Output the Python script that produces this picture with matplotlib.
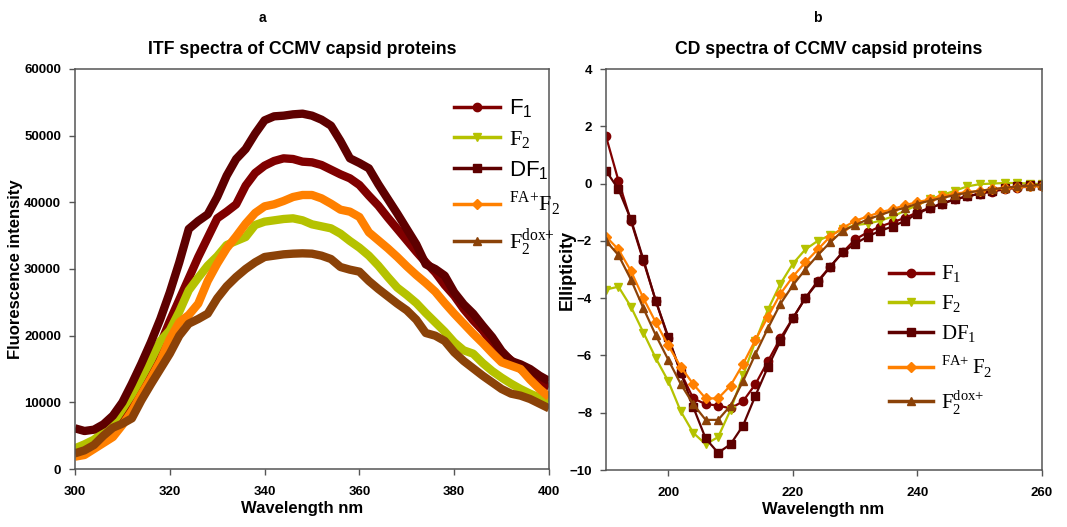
import matplotlib
matplotlib.use('Agg')
import matplotlib.pyplot as plt
from matplotlib.lines import Line2D
import numpy as np

plt.rcParams['font.family'] = ['Liberation Sans', 'DejaVu Sans']
plt.rcParams['mathtext.fontset'] = 'custom'
plt.rcParams['mathtext.rm'] = 'Liberation Serif'
plt.rcParams['mathtext.sf'] = 'Liberation Sans'

# ---- Panel a: intrinsic tryptophan fluorescence ----
itf_wl = np.arange(300, 401, 2)
itf_f1 = [2800, 3300, 4200, 5300, 6600, 8300, 10500, 13000, 15800, 18700,
          22200, 25400, 28600, 31800, 34700, 37600, 38600, 39700, 42500, 44400,
          45500, 46200, 46600, 46500, 46100, 46000, 45600, 44900, 44200, 43600,
          42600, 41000, 39500, 37700, 36000, 34300, 32600, 31000, 29500, 27600,
          26000, 24000, 22300, 20800, 18900, 17400, 16300, 15000, 13900, 13000, 12300]
itf_f2 = [3100, 3700, 4400, 5500, 6900, 9000, 11200, 13700, 16300, 19200,
          20800, 23600, 26800, 28700, 30500, 31900, 33600, 34200, 34800, 36600,
          37100, 37300, 37500, 37600, 37300, 36700, 36400, 36100, 35300, 34200,
          33200, 32000, 30500, 28800, 27200, 26100, 24900, 23400, 22000, 20600,
          19000, 17800, 17300, 15900, 14700, 13700, 12800, 12000, 11300, 10700, 10200]
itf_df1 = [6100, 5700, 5900, 6700, 8000, 10000, 12800, 15800, 19000, 22500,
           26500, 31000, 36000, 37200, 38200, 40800, 44000, 46500, 48000, 50300,
           52300, 52900, 53000, 53200, 53300, 53000, 52400, 51500, 49200, 46600,
           45900, 45100, 42700, 40500, 38300, 36000, 33700, 30700, 30000, 29000,
           26500, 24700, 23300, 21500, 19800, 17700, 16200, 15700, 15000, 14000, 13200]
itf_fa_f2 = [1850, 2100, 3000, 3900, 4800, 6600, 8700, 11200, 13600, 16200,
             19500, 22000, 23100, 24800, 28200, 30800, 33100, 34900, 36800, 38400,
             39400, 39700, 40200, 40800, 41100, 41100, 40600, 39800, 38900, 38600,
             37800, 35500, 34300, 33100, 31800, 30400, 29100, 27900, 26600, 24900,
             23300, 21800, 20300, 18900, 17400, 16000, 15500, 15000, 13400, 12000, 10800]
itf_f2_dox = [2350, 2800, 3600, 5000, 6200, 6800, 7600, 10300, 12700, 15000,
              17300, 20000, 21800, 22500, 23300, 25600, 27400, 28800, 30000, 31000,
              31800, 32000, 32200, 32300, 32350, 32300, 32000, 31500, 30300, 29900,
              29600, 28200, 27000, 25900, 24800, 23800, 22400, 20400, 20000, 19200,
              17500, 16200, 15100, 14000, 13000, 12000, 11300, 11000, 10500, 9800, 9100]

# ---- Panel b: circular dichroism ----
cd_wl = np.arange(190, 261, 2)
cd_f1 = [1.65, 0.1, -1.3, -2.7, -4.1, -5.4, -6.6, -7.5, -7.7, -7.75,
         -7.85, -7.6, -7.0, -6.2, -5.4, -4.7, -4.0, -3.4, -2.9, -2.4,
         -1.95, -1.7, -1.5, -1.35, -1.2, -1.0, -0.85, -0.7, -0.55, -0.45,
         -0.35, -0.28, -0.2, -0.15, -0.1, -0.08]
cd_f2 = [-3.7, -3.6, -4.3, -5.2, -6.1, -6.9, -7.95, -8.7, -9.1, -8.85,
         -7.9, -6.7, -5.5, -4.4, -3.5, -2.8, -2.3, -2.0, -1.8, -1.6,
         -1.45, -1.4, -1.3, -1.15, -0.95, -0.75, -0.55, -0.4, -0.25, -0.1,
         -0.02, 0.0, 0.02, 0.02, 0.0, -0.02]
cd_df1 = [0.45, -0.2, -1.25, -2.65, -4.1, -5.35, -6.6, -7.8, -8.9, -9.4,
          -9.1, -8.45, -7.4, -6.4, -5.5, -4.7, -4.0, -3.45, -2.9, -2.4,
          -2.1, -1.85, -1.65, -1.5, -1.3, -1.05, -0.85, -0.7, -0.55, -0.45,
          -0.35, -0.25, -0.15, -0.1, -0.05, -0.05]
cd_fa_f2 = [-1.85, -2.3, -3.05, -4.0, -4.85, -5.65, -6.4, -7.0, -7.5, -7.5,
            -7.05, -6.3, -5.45, -4.65, -3.85, -3.25, -2.75, -2.3, -1.85, -1.55,
            -1.3, -1.15, -1.0, -0.9, -0.75, -0.65, -0.55, -0.45, -0.35, -0.3,
            -0.25, -0.2, -0.15, -0.12, -0.1, -0.08]
cd_f2_dox = [-2.0, -2.5, -3.35, -4.35, -5.3, -6.15, -7.0, -7.7, -8.25, -8.25,
             -7.75, -6.9, -5.95, -5.05, -4.2, -3.55, -3.0, -2.5, -2.05, -1.65,
             -1.45, -1.25, -1.1, -0.95, -0.85, -0.7, -0.6, -0.5, -0.4, -0.32,
             -0.25, -0.2, -0.15, -0.1, -0.08, -0.05]

colors = ['#800000', '#b5c200', '#5e0000', '#ff8000', '#8b4208']
markers = ['o', 'v', 's', 'D', '^']

fig = plt.figure(figsize=(10.67, 5.27), dpi=100)
ax1 = fig.add_axes([75 / 1067, 1 - 469 / 527, 474 / 1067, 400 / 527])
ax2 = fig.add_axes([606 / 1067, 1 - 470 / 527, 436 / 1067, 401 / 527])

itf_series = [itf_f1, itf_f2, itf_df1, itf_fa_f2, itf_f2_dox]
for ys, c in zip(itf_series, colors):
    ax1.plot(itf_wl, ys, color=c, lw=6, solid_joinstyle='round', solid_capstyle='butt')

cd_series = [cd_f1, cd_f2, cd_df1, cd_fa_f2, cd_f2_dox]
for ys, c, m in zip(cd_series, colors, markers):
    ms = 5.2 if m == 'D' else 6
    ax2.plot(cd_wl, ys, color=c, lw=1.6, marker=m, ms=ms, mec=c, mfc=c)

ax1.set_xlim(300, 400)
ax1.set_ylim(0, 60000)
ax1.set_xticks(np.arange(300, 401, 20))
ax1.set_yticks(np.arange(0, 60001, 10000))
ax2.set_xlim(190, 260)
ax2.set_ylim(-10, 4)
ax2.set_xticks([200, 220, 240, 260])
ax2.set_yticks(np.arange(-10, 5, 2))

for ax in (ax1, ax2):
    for s in ax.spines.values():
        s.set_color('#555555')
        s.set_linewidth(1.1)
    ax.tick_params(direction='out', length=4, width=1, color='#555555')
    ax.tick_params(axis='x', pad=8)
    ax.tick_params(axis='y', pad=6)
    for lab in ax.get_xticklabels() + ax.get_yticklabels():
        lab.set_fontsize(9.5)
        lab.set_fontweight('bold')

ax1.set_xlabel('Wavelength nm', fontsize=12, fontweight='bold')
ax1.set_ylabel('Fluorescence intensity', fontsize=12, fontweight='bold')
ax2.set_xlabel('Wavelength nm', fontsize=12, fontweight='bold')
ax2.set_ylabel('Ellipticity', fontsize=13, fontweight='bold')
ax1.xaxis.set_label_coords(0.478, -0.08)
ax2.xaxis.set_label_coords(0.498, -0.08)
ax1.yaxis.set_label_coords(-0.11, 0.5)
ax2.yaxis.set_label_coords(-0.07, 0.5)

fig.text(262 / 1067, 1 - 18 / 527, 'a', fontsize=10, fontweight='bold',
         ha='center', va='center')
fig.text(817 / 1067, 1 - 18 / 527, 'b', fontsize=10, fontweight='bold',
         ha='center', va='center')
fig.text(302 / 1067, 1 - 50 / 527, 'ITF spectra of CCMV capsid proteins',
         fontsize=12.7, fontweight='bold', ha='center', va='center')
fig.text(829 / 1067, 1 - 50 / 527, 'CD spectra of CCMV capsid proteins',
         fontsize=12.7, fontweight='bold', ha='center', va='center')

labels_a = [r'$\mathsf{F}_{\mathsf{1}}$', r'$\mathrm{F}_{2}$', r'$\mathsf{DF}_{\mathsf{1}}$',
            r'$^{\mathrm{FA{+}}}\mathrm{F}_{2}$', r'$\mathrm{F}_{2}^{\mathrm{dox{+}}}$']
labels_b = [r'$\mathrm{F}_{1}$', r'$\mathrm{F}_{2}$', r'$\mathrm{DF}_{1}$',
            r'$^{\mathrm{FA{+}}}\,\mathrm{F}_{2}$', r'$\mathrm{F}_{2}^{\mathrm{dox{+}}}$']

handles = [Line2D([], [], color=c, marker=m, lw=2.5, ms=6 if m != 'D' else 5,
                  mec=c, mfc=c) for c, m in zip(colors, markers)]

ax1.legend(handles, labels_a, loc='upper left', bbox_to_anchor=(0.78, 0.95),
           frameon=False, fontsize=16, handlelength=2.1, handletextpad=0.4,
           labelspacing=0.38, borderaxespad=0)
ax2.legend(handles, labels_b, loc='upper left', bbox_to_anchor=(0.63, 0.535),
           frameon=False, fontsize=15, handlelength=2.1, handletextpad=0.4,
           labelspacing=0.4, borderaxespad=0)

fig.savefig('out.png', dpi=100)
